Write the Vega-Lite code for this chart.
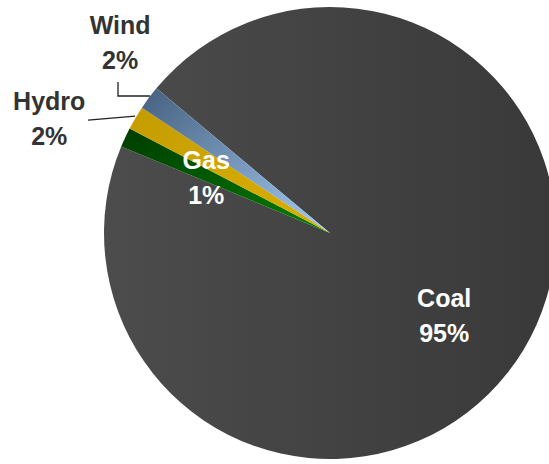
{
  "$schema": "https://vega.github.io/schema/vega-lite/v6.json",
  "width": 438,
  "height": 462,
  "autosize": {"type": "none"},
  "padding": {"left": 111, "top": 2, "right": 0, "bottom": 0},
  "background": "white",
  "config": {"view": {"stroke": null}},
  "datasets": {
    "shares": [
      {"source": "Coal", "share": 95.2, "label": "Coal\n95%"},
      {"source": "Gas", "share": 1.4, "label": "Gas\n1%"},
      {"source": "Hydro", "share": 1.7, "label": "Hydro\n2%"},
      {"source": "Wind", "share": 1.7, "label": "Wind\n2%"}
    ],
    "leaders": [
      {"line": "Wind", "i": 0, "x": -0.968, "y": 0.654},
      {"line": "Wind", "i": 1, "x": -0.968, "y": 0.593},
      {"line": "Wind", "i": 2, "x": -0.822, "y": 0.593},
      {"line": "Hydro", "i": 0, "x": -1.105, "y": 0.489},
      {"line": "Hydro", "i": 1, "x": -1.037, "y": 0.494},
      {"line": "Hydro", "i": 2, "x": -0.890, "y": 0.506}
    ]
  },
  "layer": [
    {
      "data": {"name": "shares"},
      "mark": {"type": "arc", "outerRadius": 226},
      "encoding": {
        "theta": {"field": "share", "type": "quantitative", "stack": true, "scale": {"range": [5.407, 11.690]}},
        "order": {"field": "source", "sort": "ascending"},
        "color": {
          "condition": [
            {"test": "datum.source === 'Wind'", "value": {"gradient": "linear", "x1": 0, "y1": 0, "x2": 1, "y2": 1, "stops": [{"offset": 0, "color": "#46607f"}, {"offset": 1, "color": "#a4ccf4"}]}},
            {"test": "datum.source === 'Hydro'", "value": {"gradient": "linear", "x1": 0, "y1": 0, "x2": 1, "y2": 1, "stops": [{"offset": 0, "color": "#c49c00"}, {"offset": 1, "color": "#dcb000"}]}},
            {"test": "datum.source === 'Gas'", "value": {"gradient": "linear", "x1": 0, "y1": 0, "x2": 1, "y2": 1, "stops": [{"offset": 0, "color": "#003c00"}, {"offset": 1, "color": "#008000"}]}}
          ],
          "value": {"gradient": "linear", "x1": 0, "y1": 0, "x2": 1, "y2": 0, "stops": [{"offset": 0, "color": "#4c4c4c"}, {"offset": 1, "color": "#393939"}]}
        }
      }
    },
    {
      "data": {"name": "shares"},
      "mark": {"type": "text", "radius": 141.6, "dx": -7, "dy": -7.5, "font": "Liberation Sans", "fontWeight": "bold", "fontSize": 25, "lineBreak": "\n", "lineHeight": 35, "color": "white"},
      "encoding": {
        "theta": {"field": "share", "type": "quantitative", "stack": true},
        "order": {"field": "source", "sort": "ascending"},
        "text": {"condition": {"test": "datum.source === 'Coal'", "field": "label"}, "value": ""}
      }
    },
    {
      "data": {"name": "shares"},
      "mark": {"type": "text", "radius": 136.6, "dx": 0, "dy": -14.5, "font": "Liberation Sans", "fontWeight": "bold", "fontSize": 25, "lineBreak": "\n", "lineHeight": 35, "color": "white"},
      "encoding": {
        "theta": {"field": "share", "type": "quantitative", "stack": true},
        "order": {"field": "source", "sort": "ascending"},
        "text": {"condition": {"test": "datum.source === 'Gas'", "field": "label"}, "value": ""}
      }
    },
    {
      "data": {"name": "shares"},
      "mark": {"type": "text", "radius": 303, "dx": -20, "dy": 23.5, "font": "Liberation Sans", "fontWeight": "bold", "fontSize": 25, "lineBreak": "\n", "lineHeight": 35, "color": "#333333"},
      "encoding": {
        "theta": {"field": "share", "type": "quantitative", "stack": true},
        "order": {"field": "source", "sort": "ascending"},
        "text": {"condition": {"test": "datum.source === 'Hydro'", "field": "label"}, "value": ""}
      }
    },
    {
      "data": {"name": "shares"},
      "mark": {"type": "text", "radius": 283, "dx": 17, "dy": -37.5, "font": "Liberation Sans", "fontWeight": "bold", "fontSize": 25, "lineBreak": "\n", "lineHeight": 35, "color": "#333333"},
      "encoding": {
        "theta": {"field": "share", "type": "quantitative", "stack": true},
        "order": {"field": "source", "sort": "ascending"},
        "text": {"condition": {"test": "datum.source === 'Wind'", "field": "label"}, "value": ""}
      }
    },
    {
      "data": {"name": "leaders"},
      "mark": {"type": "line", "color": "#222222", "strokeWidth": 1.3},
      "encoding": {
        "x": {"field": "x", "type": "quantitative", "axis": null, "scale": {"domain": [-1, 1], "nice": false, "zero": false}},
        "y": {"field": "y", "type": "quantitative", "axis": null, "scale": {"domain": [-1, 1], "nice": false, "zero": false}},
        "detail": {"field": "line"},
        "order": {"field": "i"}
      }
    }
  ]
}
